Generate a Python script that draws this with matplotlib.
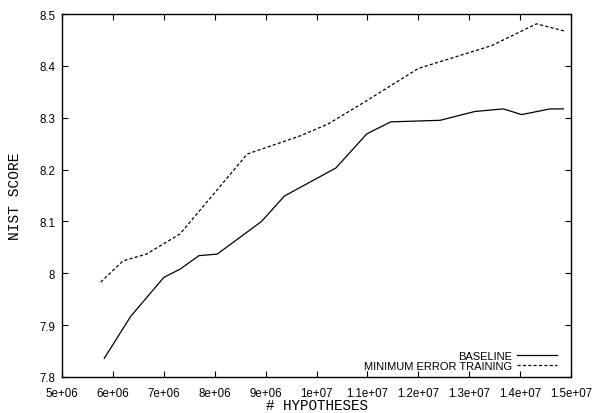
import numpy as np
import matplotlib.pyplot as plt

# baseline (solid)
base_x = [5.83e6, 6.35e6, 7.0e6, 7.32e6, 7.69e6, 8.05e6, 8.92e6, 9.37e6,
          1.038e7, 1.099e7, 1.146e7, 1.243e7, 1.311e7, 1.367e7, 1.403e7,
          1.459e7, 1.485e7]
base_y = [7.836, 7.917, 7.992, 8.008, 8.034, 8.037, 8.100, 8.149,
          8.203, 8.269, 8.292, 8.295, 8.312, 8.317, 8.306, 8.317, 8.317]

# minimum error training (dashed)
met_x = [5.76e6, 6.2e6, 6.66e6, 7.32e6, 8.64e6, 9.68e6, 1.023e7, 1.099e7,
         1.2e7, 1.344e7, 1.432e7, 1.488e7]
met_y = [7.983, 8.024, 8.037, 8.076, 8.230, 8.265, 8.288, 8.333,
         8.395, 8.439, 8.481, 8.467]

xticks = np.arange(5e6, 1.5e7 + 1, 1e6)
xlabels = ['5e+06', '6e+06', '7e+06', '8e+06', '9e+06', '1e+07', '1.1e+07',
           '1.2e+07', '1.3e+07', '1.4e+07', '1.5e+07']
yticks = [7.8, 7.9, 8.0, 8.1, 8.2, 8.3, 8.4, 8.5]
ylabels = ['7.8', '7.9', '8', '8.1', '8.2', '8.3', '8.4', '8.5']

plt.rcParams['font.family'] = 'Liberation Sans'
fig = plt.figure(figsize=(5.94, 4.14), dpi=100)
ax = fig.add_axes([62/594, 1 - 378/414, (571-62)/594, (378-15)/414])

ax.plot(base_x, base_y, color='black', lw=0.9, label='BASELINE')
ax.plot(met_x, met_y, color='black', lw=0.9, linestyle=(0, (2.5, 1.8)),
        label='MINIMUM ERROR TRAINING')

ax.set_xlim(5e6, 1.5e7)
ax.set_ylim(7.8, 8.5)
ax.set_xticks(xticks)
ax.set_xticklabels(xlabels)
ax.set_yticks(yticks)
ax.set_yticklabels(ylabels)
ax.tick_params(direction='in', length=4, width=0.8, top=True, right=True,
               labelsize=8.3)
ax.tick_params(axis='x', pad=7.5)
ax.tick_params(axis='y', pad=5)
for s in ax.spines.values():
    s.set_linewidth(1.0)

ax.set_xlabel('# HYPOTHESES', family='Liberation Mono', fontsize=10.3,
              labelpad=-1)
ax.set_ylabel('NIST SCORE', family='Liberation Mono', fontsize=10.5,
              labelpad=12)

ax.legend(loc='lower right', bbox_to_anchor=(0.981, 0.005), frameon=False,
          markerfirst=False, fontsize=8, handlelength=3.6,
          handletextpad=0.45, labelspacing=0.0, borderaxespad=0)

fig.savefig('out.png', dpi=100)
